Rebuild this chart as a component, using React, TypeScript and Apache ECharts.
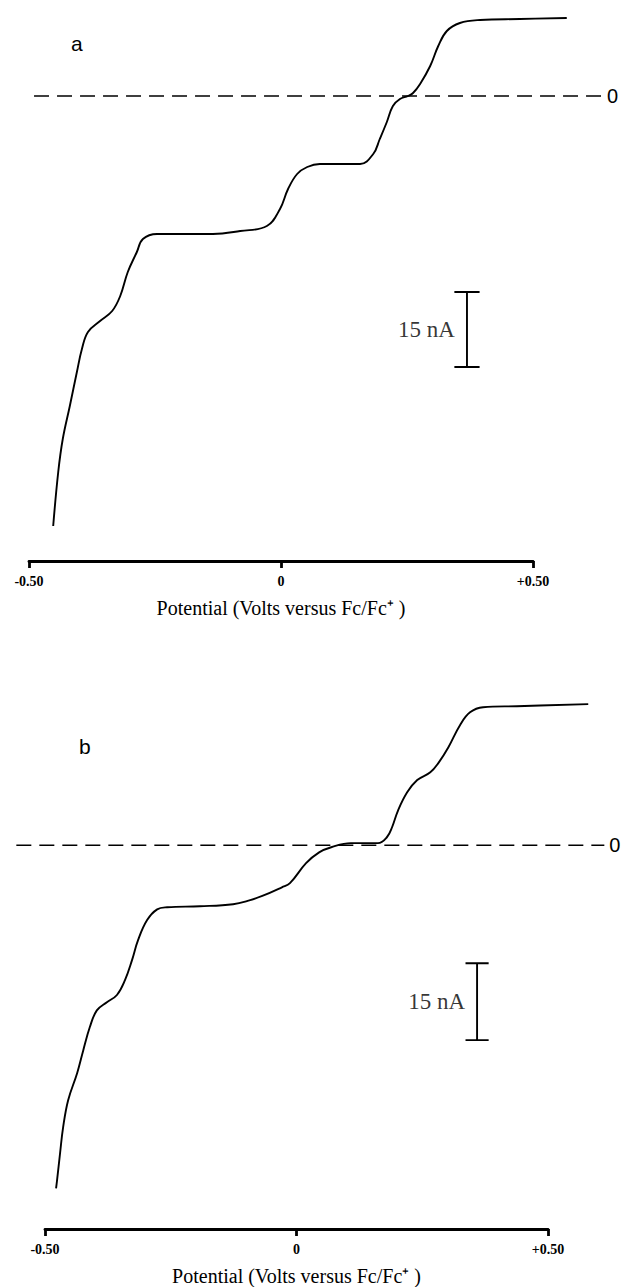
import React, { useEffect, useRef } from "react";
import * as echarts from "echarts";

// ---- Data ----
const xTickLabels = ["-0.50", "0", "+0.50"];
const axisTitle = "Potential (Volts versus Fc/Fc\u207A )";
const scaleLabel = "15 nA";

// Panel a: potential (V vs Fc/Fc+) and current (nA)
const potentialA = [
  -0.452, -0.442, -0.433, -0.419, -0.405, -0.395, -0.383, -0.359, -0.335, -0.319,
  -0.304, -0.286, -0.274, -0.246, -0.19, -0.135, -0.081, -0.028, -0.002, 0.014,
  0.032, 0.052, 0.077, 0.157, 0.183, 0.196, 0.21, 0.222, 0.236, 0.252, 0.262, 0.276,
  0.296, 0.312, 0.329, 0.355, 0.395, 0.474, 0.567,
];
const currentA = [
  -86, -75.2, -68.6, -62, -55.2, -50.6, -47.2, -45, -43, -40,
  -35.2, -31.2, -28.6, -27.6, -27.6, -27.6, -27, -26, -22.6, -18.6,
  -15.6, -14.2, -13.6, -13.6, -11.6, -8.6, -5.2, -2, -0.6, 0, 0.6, 2.4,
  6, 10, 13, 14.6, 15.2, 15.4, 15.6,
];

// Panel b
const potentialB = [
  -0.478, -0.476, -0.47, -0.464, -0.454, -0.436, -0.424, -0.411, -0.397, -0.377,
  -0.357, -0.341, -0.327, -0.315, -0.297, -0.277, -0.257, -0.192, -0.126, -0.092,
  -0.068, -0.029, -0.013, 0.019, 0.045, 0.069, 0.108, 0.162, 0.18, 0.19,
  0.202, 0.22, 0.24, 0.266, 0.282, 0.302, 0.325, 0.345, 0.371, 0.438, 0.58,
];
const currentB = [
  -66.9, -65.3, -60, -55, -49.7, -44.4, -40, -35.5, -32.2, -30.6,
  -29.2, -26.3, -22.4, -18.5, -14.6, -12.5, -12.1, -11.9, -11.5, -10.7,
  -9.9, -8.2, -7.4, -3.5, -1.4, -0.4, 0.4, 0.4, 1.6, 3.5,
  6.8, 10.3, 12.7, 14.2, 16, 19.1, 23.4, 25.9, 26.9, 27.1, 27.5,
];

// Zero reference lines (V range) and scale bars (nA)
const zeroLineA = [-0.49, 0.637];
const zeroLineB = [-0.557, 0.612];
const scaleBarA = { x: 0.369, half: 0.025, top: -39.2, bottom: -54.2, labelX: 0.345 };
const scaleBarB = { x: 0.359, half: 0.023, top: -23.0, bottom: -38.0, labelX: 0.335 };

const SERIF = "'Liberation Serif', 'Times New Roman', serif";
const SANS = "'Liberation Sans Narrow', 'Liberation Sans', Arial, sans-serif";

// ---- Layout ----
type Panel = {
  left: number; top: number; height: number; pxPerV: number;
  yMin: number; yMax: number; dataXMin: number; dataXMax: number;
};
const panelA: Panel = { left: 29, top: 15, height: 546, pxPerV: 504, yMin: -93, yMax: 16.2, dataXMin: -0.5, dataXMax: 0.66 };
const panelB: Panel = { left: 45, top: 699, height: 533, pxPerV: 503, yMin: -75.4, yMax: 28.5, dataXMin: -0.58, dataXMax: 0.66 };

function zip(xs: number[], ys: number[]) {
  return xs.map((x, i) => [x, ys[i]]);
}

function barData(b: typeof scaleBarA) {
  return [
    [b.x - b.half, b.top],
    [b.x + b.half, b.top],
    [b.x, b.top],
    [b.x, b.bottom],
    [b.x - b.half, b.bottom],
    [b.x + b.half, b.bottom],
  ];
}

function panelSeries(idx: number, xs: number[], ys: number[], zero: number[], bar: typeof scaleBarA) {
  return [
    {
      type: "line",
      xAxisIndex: idx,
      yAxisIndex: idx,
      data: zip(xs, ys),
      smooth: 0.4,
      symbol: "none",
      clip: false,
      lineStyle: { color: "#000", width: 1.9 },
    },
    {
      type: "line",
      xAxisIndex: idx,
      yAxisIndex: idx,
      data: zero.map((x) => [x, 0]),
      symbol: "none",
      clip: false,
      lineStyle: { color: "#000", width: 1.5, type: [15, 8] },
      endLabel: {
        show: true,
        formatter: "0",
        distance: 5,
        color: "#000",
        fontSize: 20,
        fontFamily: SANS,
      },
    },
    {
      type: "line",
      xAxisIndex: idx,
      yAxisIndex: idx,
      data: barData(bar),
      symbol: "none",
      clip: false,
      lineStyle: { color: "#000", width: 1.9 },
    },
    {
      type: "scatter",
      xAxisIndex: idx,
      yAxisIndex: idx,
      data: [[bar.labelX, (bar.top + bar.bottom) / 2]],
      symbolSize: 0,
      clip: false,
      label: {
        show: true,
        position: "left",
        distance: 0,
        formatter: scaleLabel,
        color: "#000",
        fontSize: 23,
        fontFamily: SERIF,
      },
    },
  ];
}

function visibleAxis(idx: number) {
  return {
    type: "value",
    gridIndex: idx,
    min: -0.5,
    max: 0.5,
    interval: 0.5,
    name: axisTitle,
    nameLocation: "middle",
    nameGap: 37,
    nameTextStyle: { color: "#000", fontSize: 20, fontFamily: SERIF },
    axisLine: { show: true, onZero: false, lineStyle: { color: "#000", width: 2.8 } },
    axisTick: { show: true, length: 7, lineStyle: { color: "#000", width: 2.8 } },
    axisLabel: {
      margin: 13,
      color: "#000",
      fontSize: 14,
      fontWeight: "bold",
      fontFamily: SERIF,
      formatter: (_v: number, i: number) => xTickLabels[i] ?? "",
    },
    splitLine: { show: false },
  };
}

function dataGrid(p: Panel) {
  return {
    left: p.left - (-0.5 - p.dataXMin) * p.pxPerV,
    top: p.top,
    height: p.height,
    width: (p.dataXMax - p.dataXMin) * p.pxPerV,
    containLabel: false,
  };
}

function axisGrid(p: Panel) {
  return { left: p.left, top: p.top, height: p.height, width: p.pxPerV, containLabel: false };
}

export default function App() {
  const ref = useRef<HTMLDivElement>(null);
  useEffect(() => {
    if (!ref.current) return;
    const chart = echarts.init(ref.current, undefined, { renderer: "svg" });
    chart.setOption({
      animation: false,
      backgroundColor: "#fff",
      title: [
        { text: "a", left: 66, top: 28, textStyle: { fontSize: 21, fontWeight: "normal", fontFamily: SANS, color: "#000" } },
        { text: "b", left: 74, top: 731, textStyle: { fontSize: 21, fontWeight: "normal", fontFamily: SANS, color: "#000" } },
      ],
      grid: [dataGrid(panelA), dataGrid(panelB), axisGrid(panelA), axisGrid(panelB)],
      xAxis: [
        { type: "value", gridIndex: 0, min: panelA.dataXMin, max: panelA.dataXMax, show: false },
        { type: "value", gridIndex: 1, min: panelB.dataXMin, max: panelB.dataXMax, show: false },
        visibleAxis(2),
        visibleAxis(3),
      ],
      yAxis: [
        { type: "value", gridIndex: 0, min: panelA.yMin, max: panelA.yMax, show: false },
        { type: "value", gridIndex: 1, min: panelB.yMin, max: panelB.yMax, show: false },
        { type: "value", gridIndex: 2, min: 0, max: 1, show: false },
        { type: "value", gridIndex: 3, min: 0, max: 1, show: false },
      ],
      series: [
        ...panelSeries(0, potentialA, currentA, zeroLineA, scaleBarA),
        ...panelSeries(1, potentialB, currentB, zeroLineB, scaleBarB),
      ],
    });
    return () => chart.dispose();
  }, []);
  return (
    <div
      ref={ref}
      style={{ position: "absolute", left: 0, top: 0, width: 629, height: 1287, background: "#fff" }}
    />
  );
}
